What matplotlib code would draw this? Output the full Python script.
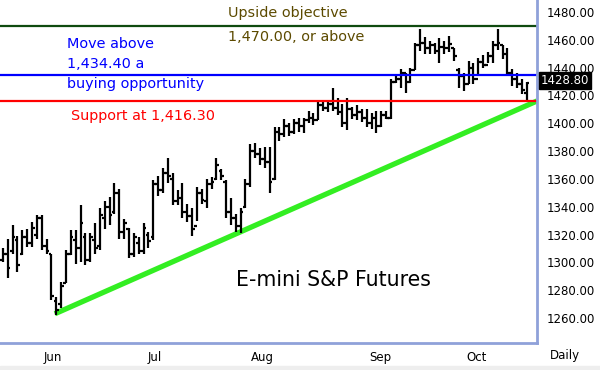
import matplotlib
matplotlib.use("Agg")
import matplotlib.pyplot as plt
import numpy as np

# -----------------------------
# DATOS
# -----------------------------
highs = [1310, 1317, 1327, 1319, 1323, 1324, 1329, 1334, 1334, 1317,
         1306, 1275, 1286, 1309, 1323, 1323, 1341, 1321, 1321, 1328,
         1339, 1344, 1347, 1357, 1353, 1331, 1325, 1321, 1318, 1328,
         1322, 1359, 1362, 1368, 1375, 1364, 1352, 1357, 1342, 1339,
         1354, 1353, 1360, 1361, 1375, 1367, 1359, 1346, 1335, 1339,
         1360, 1385, 1386, 1382, 1383, 1383, 1397, 1397, 1403, 1400,
         1403, 1404, 1404, 1409, 1407, 1416, 1417, 1416, 1425, 1418,
         1414, 1418, 1412, 1413, 1410, 1410, 1407, 1409, 1409, 1409,
         1432, 1434, 1439, 1436, 1440, 1458, 1468, 1462, 1459, 1458,
         1461, 1459, 1463, 1454, 1440, 1436, 1445, 1443, 1447, 1449,
         1451, 1459, 1468, 1456, 1454, 1439, 1436, 1432, 1430]
lows = [1300, 1289, 1306, 1293, 1305, 1311, 1311, 1317, 1309, 1306,
        1273, 1262, 1267, 1285, 1305, 1299, 1300, 1298, 1300, 1306,
        1309, 1324, 1327, 1335, 1317, 1317, 1303, 1304, 1306, 1306,
        1310, 1316, 1348, 1350, 1357, 1341, 1341, 1332, 1329, 1319,
        1330, 1342, 1339, 1353, 1359, 1359, 1332, 1327, 1322, 1321,
        1339, 1354, 1375, 1370, 1368, 1350, 1359, 1387, 1390, 1391,
        1392, 1394, 1393, 1400, 1399, 1402, 1409, 1408, 1409, 1406,
        1397, 1395, 1403, 1402, 1401, 1397, 1396, 1393, 1397, 1403,
        1403, 1429, 1425, 1422, 1429, 1438, 1452, 1450, 1450, 1450,
        1443, 1450, 1451, 1445, 1425, 1423, 1428, 1428, 1434, 1440,
        1443, 1443, 1453, 1446, 1434, 1427, 1425, 1421, 1416]
opens = [1302, 1306, 1308, 1316, 1306, 1318, 1314, 1320, 1332, 1312,
         1306, 1272, 1270, 1285, 1306, 1316, 1310, 1318, 1302, 1316,
         1312, 1332, 1340, 1336, 1350, 1322, 1324, 1306, 1314, 1308,
         1320, 1318, 1356, 1352, 1364, 1360, 1344, 1346, 1336, 1333,
         1326, 1350, 1344, 1356, 1360, 1366, 1358, 1336, 1332, 1326,
         1340, 1356, 1380, 1378, 1374, 1372, 1360, 1394, 1392, 1398,
         1394, 1400, 1398, 1402, 1404, 1402, 1413, 1411, 1414, 1411,
         1408, 1400, 1410, 1406, 1408, 1404, 1400, 1404, 1398, 1406,
         1404, 1430, 1432, 1436, 1430, 1438, 1456, 1458, 1454, 1456,
         1452, 1455, 1454, 1454, 1438, 1434, 1428, 1440, 1432, 1444,
         1442, 1448, 1456, 1456, 1450, 1436, 1432, 1428, 1422]
closes = [1306, 1296, 1318, 1298, 1318, 1314, 1325, 1332, 1312, 1308,
          1276, 1266, 1283, 1306, 1318, 1310, 1328, 1302, 1318, 1310,
          1334, 1340, 1334, 1350, 1322, 1328, 1306, 1318, 1308, 1325,
          1315, 1356, 1352, 1364, 1362, 1344, 1346, 1336, 1333, 1324,
          1350, 1345, 1356, 1358, 1370, 1362, 1336, 1332, 1326, 1336,
          1356, 1380, 1378, 1374, 1372, 1358, 1394, 1392, 1398, 1394,
          1400, 1398, 1402, 1404, 1402, 1413, 1411, 1414, 1411, 1408,
          1400, 1410, 1406, 1408, 1404, 1400, 1404, 1398, 1406, 1404,
          1430, 1432, 1436, 1430, 1438, 1456, 1458, 1454, 1456, 1452,
          1455, 1454, 1457, 1448, 1434, 1428, 1440, 1432, 1444, 1442,
          1448, 1456, 1458, 1450, 1436, 1432, 1428, 1424, 1428.8]

months = ["Jun", "Jul", "Aug", "Sep", "Oct"]
month_pos = [10.2, 31.4, 53.4, 77.7, 97.7]
price_ticks = [1260, 1280, 1300, 1320, 1340, 1360, 1380, 1400, 1420, 1440, 1460, 1480]

objective = 1470.00
buy_level = 1434.40
support = 1416.30
trend_start = (10.7, 1263)
trend_end = (110.1, 1416)

# -----------------------------
# FIGURA
# -----------------------------
plt.rcParams["font.family"] = "DejaVu Sans"
fig = plt.figure(figsize=(6, 3.7), dpi=100)
ax = fig.add_axes([0, 1 - 343 / 370, 537 / 600, 343 / 370])

x = np.arange(len(highs))
ax.vlines(x, lows, highs, color="black", lw=1.6)
ax.hlines(opens, x - 0.55, x, color="black", lw=1.6)
ax.hlines(closes, x, x + 0.55, color="black", lw=1.6)

# niveles horizontales
ax.axhline(objective, color="#0f4a0f", lw=1.6)
ax.axhline(buy_level, color="#0000ff", lw=1.6)
ax.axhline(support, color="#ff0000", lw=1.6)

# linea de tendencia
ax.plot([trend_start[0], trend_end[0]], [trend_start[1], trend_end[1]],
        color="#33ee22", lw=3.8, solid_capstyle="butt", zorder=1)

ax.set_xlim(-0.6, 110.1)
ax.set_ylim(1242, 1488.6)

# textos
ax.text(46.4, 1479.3, "Upside objective", color="#5c4a00", fontsize=10.4, va="center")
ax.text(46.4, 1462.0, "1,470.00, or above", color="#5c4a00", fontsize=10.4, va="center")
ax.text(13.3, 1457.0, "Move above", color="#0000ff", fontsize=10.4, va="center")
ax.text(13.3, 1442.6, "1,434.40 a", color="#0000ff", fontsize=10.4, va="center")
ax.text(13.3, 1428.3, "buying opportunity", color="#0000ff", fontsize=10.4, va="center")
ax.text(14.0, 1405.0, "Support at 1,416.30", color="#ff0000", fontsize=10.4, va="center")
ax.text(48.0, 1287.5, "E-mini S&P Futures", color="black", fontsize=14.8, va="center")

# ejes
ax.yaxis.tick_right()
ax.set_yticks(price_ticks)
ax.set_yticklabels([f"{p:.2f}" for p in price_ticks], fontsize=8.5)
ax.set_xticks(month_pos)
ax.set_xticklabels(months, fontsize=8.5)
ax.tick_params(length=0, pad=6)
ax.tick_params(axis="y", pad=7)
for side in ["top", "left"]:
    ax.spines[side].set_visible(False)
for side in ["right", "bottom"]:
    ax.spines[side].set_color("#8fa1d9")
    ax.spines[side].set_linewidth(2)

# ultimo precio (tapa la etiqueta 1420.00 como en el original)
ax.annotate(f"{closes[-1]:.2f}", xy=(1.0, closes[-1]), xycoords=("axes fraction", "data"),
            xytext=(3, 2), textcoords="offset points", fontsize=8.5, color="white",
            va="center", ha="left", zorder=10,
            bbox=dict(boxstyle="square,pad=0.15", fc="black", ec="black"))

fig.text(565 / 600, 1 - 356 / 370, "Daily", fontsize=8.5, ha="center", va="center")
fig.patches.append(plt.Rectangle((0, 0), 1, 4 / 370, transform=fig.transFigure,
                                 color="#eeeeee", zorder=0))

fig.savefig("out.png", dpi=100)
